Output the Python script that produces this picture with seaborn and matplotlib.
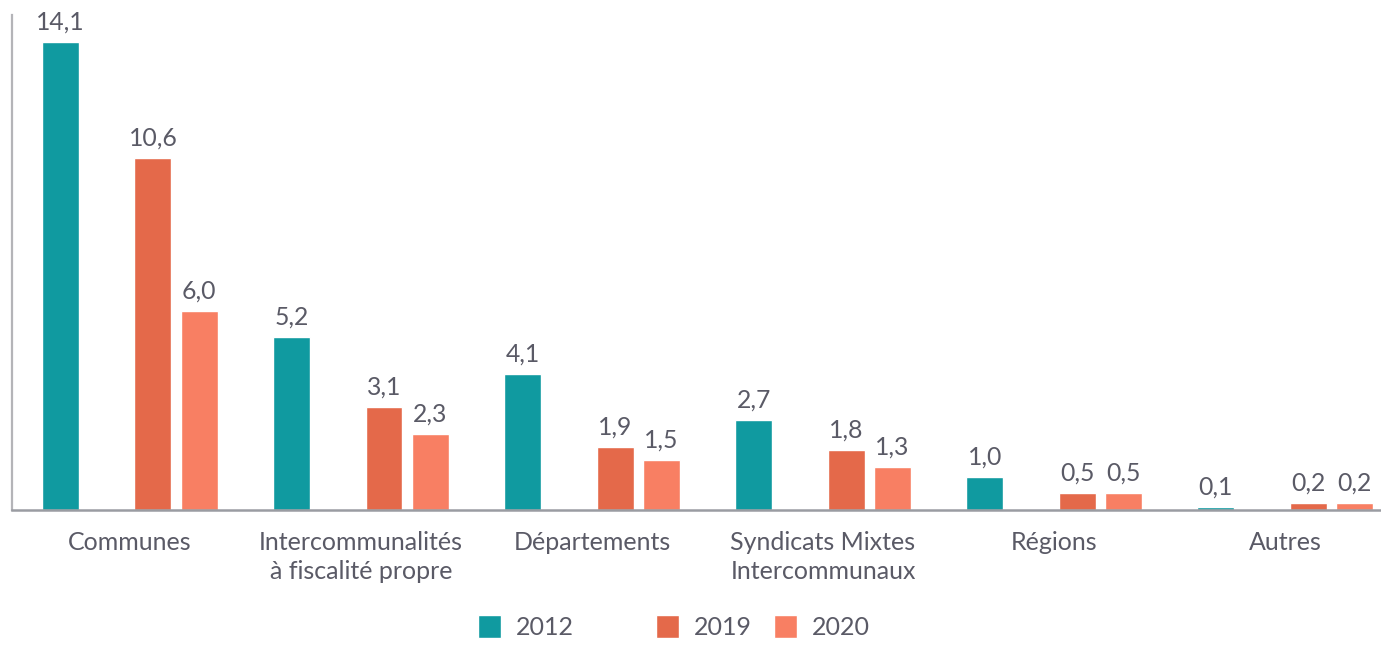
import numpy as np
import pandas as pd
import matplotlib
matplotlib.use("Agg")
import matplotlib.pyplot as plt
from matplotlib.patches import Patch
import seaborn as sns

# Data
categories = ['Communes', 'Intercommunalités\nà fiscalité propre', 'Départements',
              'Syndicats Mixtes\nIntercommunaux', 'Régions', 'Autres']
years = ['2012', '2019', '2020']
v2012 = [14.1, 5.2, 4.1, 2.7, 1.0, 0.1]
v2019 = [10.6, 3.1, 1.9, 1.8, 0.5, 0.2]
v2020 = [6.0, 2.3, 1.5, 1.3, 0.5, 0.2]

colors = {'2012': '#109aa0', '': 'white', '2019': '#e4694a', '2020': '#f87f63'}
text_color = '#5a5a66'

df = pd.DataFrame({
    'categorie': categories * 3,
    'annee': ['2012'] * 6 + ['2019'] * 6 + ['2020'] * 6,
    'valeur': v2012 + v2019 + v2020,
})

sns.set_style('white')
plt.rcParams['font.family'] = ['Lato', 'DejaVu Sans']

fig = plt.figure(figsize=(13.81, 6.46), dpi=100)
ax = fig.add_axes([12 / 1381, 136 / 646, 1 - 12 / 1381, (510 - 15) / 646])

# empty hue level keeps the gap between 2012 and 2019
hue_order = ['2012', '', '2019', '2020']
sns.barplot(data=df, x='categorie', y='valeur', hue='annee', hue_order=hue_order,
            order=categories, palette=colors, width=0.8, gap=0.2, saturation=1,
            legend=False, ax=ax)

for cont in ax.containers:
    labels = [f"{v:.1f}".replace('.', ',') for v in cont.datavalues]
    ax.bar_label(cont, labels=labels, padding=6, fontsize=17.8, color=text_color)

ax.set_xlim(-0.51, 5.415)
ax.set_ylim(0, 14.9)
ax.set_xlabel('')
ax.set_ylabel('')
ax.set_yticks([])
ax.tick_params(axis='x', length=0, pad=15, labelsize=18, labelcolor=text_color)
for lab in ax.get_xticklabels():
    lab.set_linespacing(1.35)

for s in ['top', 'right']:
    ax.spines[s].set_visible(False)
ax.spines['left'].set_color('#b4b4b8')
ax.spines['left'].set_linewidth(1.6)
ax.spines['bottom'].set_color('#9a9ca2')
ax.spines['bottom'].set_linewidth(1.8)

handles = [Patch(facecolor=colors['2012']), Patch(facecolor='none', edgecolor='none'),
           Patch(facecolor=colors['2019']), Patch(facecolor=colors['2020'])]
fig.legend(handles, ['2012', '', '2019', '2020'], loc='center',
           bbox_to_anchor=(0.488, 0.03), ncol=4, frameon=False, fontsize=18,
           labelcolor=text_color, handlelength=0.9, handleheight=1.05,
           handletextpad=0.6, columnspacing=0.9, borderpad=0.2)

fig.savefig('out.png', dpi=100)
